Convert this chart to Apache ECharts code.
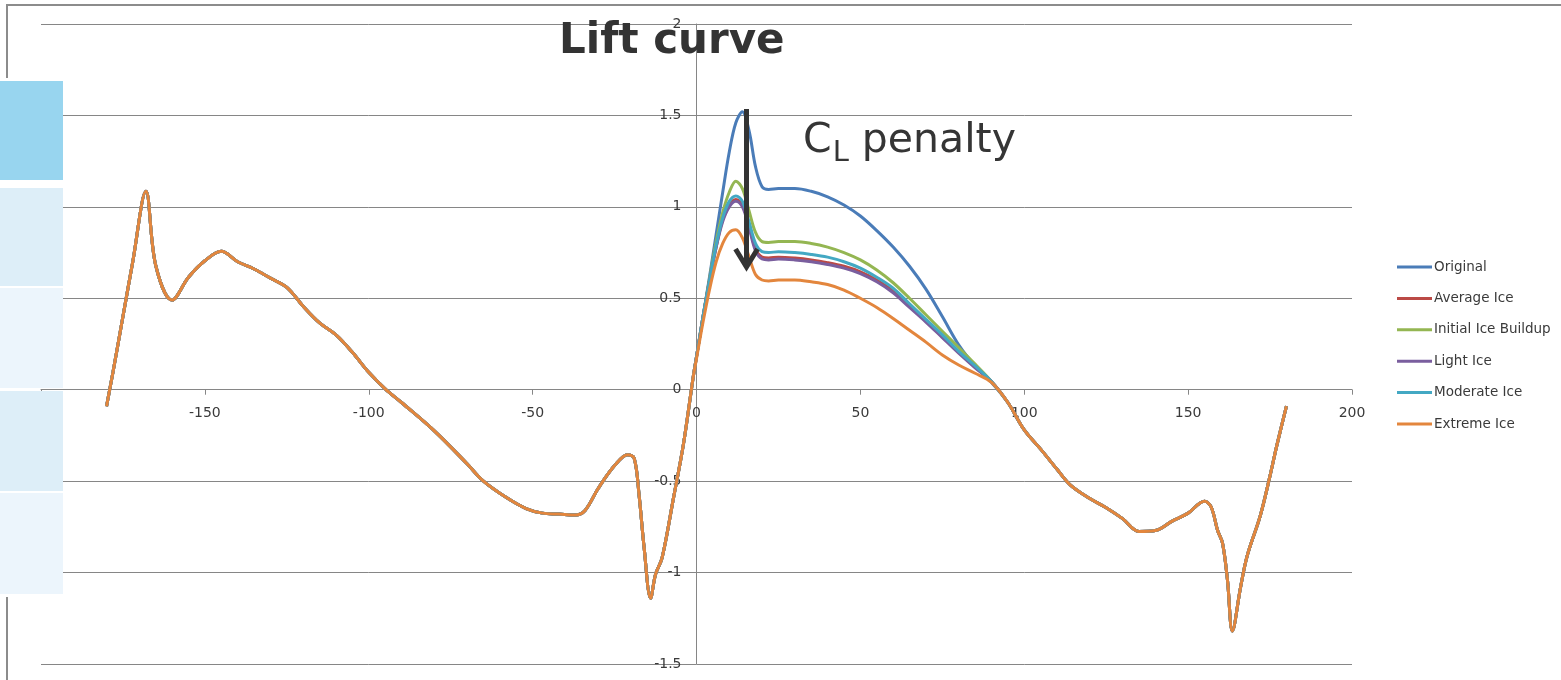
<!DOCTYPE html>
<html>
<head>
<meta charset="utf-8">
<title>Lift curve</title>
<script src="https://cdn.jsdelivr.net/npm/echarts@6/dist/echarts.min.js"></script>
<style>
  html, body { margin: 0; padding: 0; background: #ffffff; }
  #chart { width: 1561px; height: 680px; }
</style>
</head>
<body>
<div id="chart"></div>
<script>
// Axis ticks (angle of attack in degrees, lift coefficient)
const xTicks = [-200, -150, -100, -50, 0, 50, 100, 150, 200];
const yTicks = [-1.5, -1, -0.5, 0, 0.5, 1, 1.5, 2];

const seriesNames = ['Original', 'Average Ice', 'Initial Ice Buildup', 'Light Ice', 'Moderate Ice', 'Extreme Ice'];
const seriesColors = ['#4A7CB8', '#BB4A46', '#94B652', '#7A5E9E', '#43A8C3', '#E3863D'];

// Branch shared by every configuration: -180 .. 0 deg
const negAlpha = [-180, -178, -175, -172, -168, -165, -160, -155, -150, -145, -140, -135, -130, -125,
  -120, -115, -110, -105, -100, -95, -90, -80, -70, -65, -58, -52, -47, -42, -37, -34, -30, -25,
  -21, -19, -17.5, -16, -14, -12.5, -10.5, -7, -4, -1];
const negCl = [-0.09, 0.10, 0.40, 0.70, 1.085, 0.68, 0.49, 0.615, 0.705, 0.757, 0.70, 0.66, 0.61, 0.56,
  0.456, 0.365, 0.30, 0.205, 0.095, 0.005, -0.07, -0.225, -0.405, -0.50, -0.59, -0.65, -0.675, -0.68,
  -0.685, -0.66, -0.54, -0.415, -0.355, -0.375, -0.58, -0.86, -1.14, -1.01, -0.92, -0.59, -0.30, 0.07];

// Attached-flow / stall region, where ice accretion changes the lift
const stallAlpha = [0, 2, 4, 6, 8, 10, 12, 14, 16, 18, 20, 22, 25, 30, 35, 40, 45, 50, 55, 60, 65, 70, 75, 80, 85, 90];
const clOriginal = [0.18, 0.40, 0.62, 0.85, 1.08, 1.30, 1.46, 1.52, 1.42, 1.22, 1.11, 1.095, 1.10, 1.10,
  1.085, 1.055, 1.01, 0.95, 0.87, 0.78, 0.675, 0.55, 0.40, 0.245, 0.13, 0.04];
const clAverage = [0.18, 0.40, 0.60, 0.78, 0.93, 1.01, 1.04, 1.01, 0.90, 0.77, 0.725, 0.72, 0.725, 0.72,
  0.71, 0.695, 0.675, 0.645, 0.60, 0.54, 0.46, 0.375, 0.29, 0.205, 0.125, 0.045];
const clInitial = [0.18, 0.40, 0.61, 0.81, 0.97, 1.08, 1.14, 1.10, 0.98, 0.86, 0.81, 0.805, 0.81, 0.81,
  0.80, 0.78, 0.75, 0.71, 0.655, 0.585, 0.50, 0.41, 0.32, 0.23, 0.14, 0.045];
const clLight = [0.18, 0.40, 0.60, 0.78, 0.92, 1.00, 1.03, 1.00, 0.89, 0.76, 0.715, 0.71, 0.715, 0.71,
  0.70, 0.685, 0.665, 0.635, 0.59, 0.53, 0.45, 0.37, 0.285, 0.20, 0.12, 0.045];
const clModerate = [0.18, 0.40, 0.60, 0.79, 0.94, 1.03, 1.06, 1.03, 0.92, 0.80, 0.755, 0.75, 0.755, 0.75,
  0.74, 0.725, 0.70, 0.665, 0.615, 0.555, 0.47, 0.385, 0.30, 0.21, 0.13, 0.045];
const clExtreme = [0.17, 0.37, 0.55, 0.70, 0.80, 0.86, 0.875, 0.83, 0.73, 0.63, 0.60, 0.595, 0.60, 0.60,
  0.59, 0.575, 0.545, 0.50, 0.45, 0.39, 0.325, 0.26, 0.19, 0.135, 0.09, 0.04];

// Branch shared by every configuration: 95 .. 180 deg
const posAlpha = [95, 100, 105, 110, 114, 120, 125, 130, 135, 140, 145, 150, 155, 157, 159, 160.5,
  162, 163.5, 166, 168, 172, 175, 177, 180];
const posCl = [-0.07, -0.22, -0.325, -0.435, -0.52, -0.595, -0.645, -0.705, -0.775, -0.77, -0.72, -0.675,
  -0.61, -0.64, -0.77, -0.84, -1.04, -1.32, -1.08, -0.91, -0.69, -0.47, -0.31, -0.09];

const stallCl = [clOriginal, clAverage, clInitial, clLight, clModerate, clExtreme];

function pairs(xs, ys) {
  return xs.map((x, i) => [x, ys[i]]);
}

const chart = echarts.init(document.getElementById('chart'), null, { renderer: 'canvas' });

const gridColor = '#868686';
const textColor = '#3a3a3a';
const fontFamily = '"DejaVu Sans", Verdana, sans-serif';

// Plot rectangle
const gridBox = { left: 41, right: 209, top: 24, bottom: 16 };
const plotW = 1561 - gridBox.left - gridBox.right;
const plotH = 680 - gridBox.top - gridBox.bottom;

const xMin = xTicks[0], xMax = xTicks[xTicks.length - 1];
const yMin = yTicks[0], yMax = yTicks[yTicks.length - 1];

// Axes cross at the origin: shift each axis from its edge to the zero line
const xAxisOffset = -(plotH * (0 - yMin) / (yMax - yMin));
const yAxisOffset = -(plotW * (0 - xMin) / (xMax - xMin));

const series = seriesNames.map((name, k) => ({
  name: name,
  type: 'line',
  symbol: 'none',
  smooth: 0.35,
  color: seriesColors[k],
  lineStyle: { width: 3, color: seriesColors[k] },
  data: pairs(negAlpha, negCl).concat(pairs(stallAlpha, stallCl[k]), pairs(posAlpha, posCl)),
  z: 3 + k
}));

chart.setOption({
  backgroundColor: '#ffffff',
  animation: false,
  grid: Object.assign({ containLabel: false, outerBoundsMode: 'none' }, gridBox),
  xAxis: {
    type: 'value',
    position: 'bottom',
    offset: xAxisOffset,
    min: xMin,
    max: xMax,
    interval: xTicks[1] - xTicks[0],
    axisLine: { show: true, onZero: false, lineStyle: { color: gridColor, width: 1 } },
    axisTick: { show: true, length: 5, lineStyle: { color: gridColor } },
    axisLabel: { margin: 17, fontSize: 14, color: textColor, fontFamily: fontFamily },
    splitLine: { show: false }
  },
  yAxis: {
    type: 'value',
    position: 'left',
    offset: yAxisOffset,
    min: yMin,
    max: yMax,
    interval: yTicks[1] - yTicks[0],
    axisLine: { show: true, onZero: false, lineStyle: { color: gridColor, width: 1 } },
    axisTick: { show: false },
    axisLabel: { margin: 15, fontSize: 14, color: textColor, fontFamily: fontFamily },
    splitLine: { show: true, lineStyle: { color: gridColor, width: 1 } }
  },
  legend: {
    orient: 'vertical',
    left: 1392,
    top: 255,
    icon: 'rect',
    itemWidth: 35,
    itemHeight: 3,
    itemGap: 17.4,
    data: seriesNames,
    textStyle: { fontSize: 13.5, lineHeight: 14, color: textColor, fontFamily: fontFamily, padding: [0, 0, 0, -3] }
  },
  series: series
});

// Annotations: title, CL penalty arrow and text, slide frame and side panels
function buildGraphics() {
  const top = chart.convertToPixel({ gridIndex: 0 }, [15.5, 1.53]);
  const tip = chart.convertToPixel({ gridIndex: 0 }, [15.5, 0.655]);
  const ax = Math.round(top[0]) - 0.5;

  const ctx = document.createElement('canvas').getContext('2d');
  const cFont = '41px ' + fontFamily;
  const lFont = '29px ' + fontFamily;
  ctx.font = cFont;
  const cWidth = ctx.measureText('C').width;
  ctx.font = lFont;
  const lWidth = ctx.measureText('L').width;

  const cx = 803;
  const lx = cx + cWidth + 1;
  const px = lx + lWidth;

  const panels = [
    { y: 81, h: 99, fill: '#98D5EF' },
    { y: 188, h: 98, fill: '#DDEEF8' },
    { y: 288, h: 100, fill: '#ECF5FC' },
    { y: 391, h: 100, fill: '#DDEEF8' },
    { y: 493, h: 101, fill: '#ECF5FC' }
  ];

  const elements = [
    // slide frame
    { type: 'line', z: 50, shape: { x1: 6, y1: 5, x2: 1561, y2: 5 }, style: { stroke: '#8c8c8c', lineWidth: 2 } },
    { type: 'line', z: 50, shape: { x1: 7, y1: 4, x2: 7, y2: 78 }, style: { stroke: '#8c8c8c', lineWidth: 2 } },
    { type: 'line', z: 50, shape: { x1: 7, y1: 597, x2: 7, y2: 680 }, style: { stroke: '#8c8c8c', lineWidth: 2 } },
    // title
    {
      type: 'text', z: 60,
      style: { text: 'Lift curve', x: 559, y: 42, fill: '#333333', font: 'bold 42px ' + fontFamily,
        textAlign: 'left', textVerticalAlign: 'middle' }
    },
    // CL penalty label
    {
      type: 'text', z: 60,
      style: { text: 'C', x: cx, y: 141, fill: '#353535', font: cFont, textAlign: 'left', textVerticalAlign: 'middle' }
    },
    {
      type: 'text', z: 60,
      style: { text: 'L', x: lx, y: 153, fill: '#353535', font: lFont, textAlign: 'left', textVerticalAlign: 'middle' }
    },
    {
      type: 'text', z: 60,
      style: { text: ' penalty', x: px, y: 141, fill: '#353535', font: cFont, textAlign: 'left', textVerticalAlign: 'middle' }
    },
    // arrow
    {
      type: 'line', z: 60,
      shape: { x1: ax, y1: top[1] - 1, x2: ax, y2: tip[1] - 6 },
      style: { stroke: '#333333', lineWidth: 5 }
    },
    {
      type: 'polyline', z: 60,
      shape: { points: [[ax - 11, tip[1] - 21], [ax, tip[1] - 3], [ax + 11, tip[1] - 21]] },
      style: { stroke: '#333333', lineWidth: 5, fill: null, lineJoin: 'miter' }
    }
  ];

  panels.forEach(p => {
    elements.push({
      type: 'rect', z: 40,
      shape: { x: 0, y: p.y, width: 63, height: p.h },
      style: { fill: p.fill }
    });
  });
  return elements;
}

chart.setOption({ graphic: { elements: buildGraphics() } });
</script>
</body>
</html>
